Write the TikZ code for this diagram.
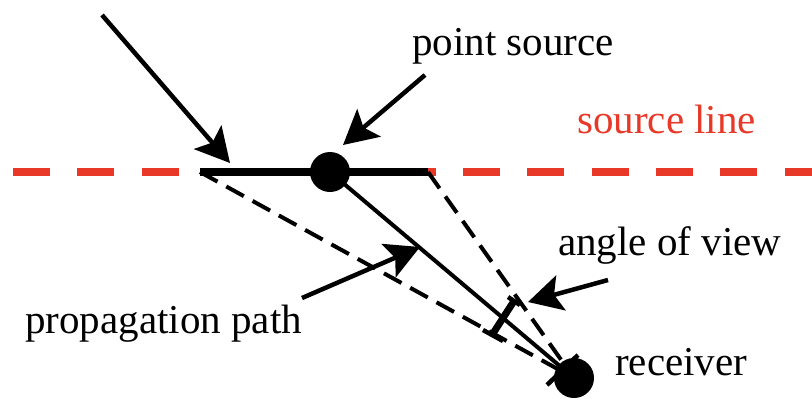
\documentclass[tikz,border=0pt]{standalone}
\usepackage{fontspec}
\setmainfont{Liberation Serif}
\usetikzlibrary{arrows.meta}
\definecolor{srcred}{RGB}{232,56,40}
\begin{document}
\begin{tikzpicture}[x=1pt,y=-1pt,
  lbl/.style={anchor=base west, inner sep=0pt, font=\fontsize{41}{48}\selectfont},
  arr/.style={line width=4.5pt, -{Stealth[length=34pt,width=36pt,inset=7pt]}},
  dot/.style={circle, fill=black, inner sep=0pt, minimum size=40pt},
  redline/.style={srcred, line width=8pt, dash pattern=on 37pt off 27.3pt},
  srcseg/.style={line width=8pt},
  pathline/.style={line width=4pt},
  viewline/.style={line width=4pt, dash pattern=on 20pt off 10pt},
  marker/.style={line width=7pt},
  tick/.style={line width=4.5pt}]
\useasboundingbox (0,0) rectangle (812,399);

% source line
\coordinate (rl0) at (13,172);
\coordinate (rl1) at (812,172);
\draw[redline] (rl0) -- (rl1);

\coordinate (L) at (200,172);
\coordinate (R) at (428,172);
\draw[srcseg] (L) -- (R);

\node[dot] (ps) at (330,172) {};
\node[dot] (rc) at (574,378) {};

% propagation path and view cone
\draw[pathline] (ps.center) -- (rc.center);
\draw[viewline] (L) -- (rc.center);
\draw[viewline] (R) -- (rc.center);

% angle of view marker
\coordinate (m1) at (514,301);
\coordinate (m2) at (492,335);
\draw[marker] (m1) -- (m2);
\coordinate (t1a) at (483,330);
\coordinate (t1b) at (503,341);
\draw[tick] (t1a) -- (t1b);
\coordinate (t2a) at (508,297);
\coordinate (t2b) at (520,305);
\draw[tick] (t2a) -- (t2b);
% receiver marker
\coordinate (r1) at (547,385);
\coordinate (r2) at (578,355);
\draw[tick] (r1) -- (r2);

% labels
\node[lbl] (tps) at (412,55) {point source};
\node[lbl, text=srcred] (tsl) at (577,133) {source line};
\node[lbl] (tav) at (558,255) {angle of view};
\node[lbl] (trc) at (615,375) {receiver};
\node[lbl] (tpp) at (25,333) {propagation path};

% arrows
\coordinate (a1s) at (102,15);
\coordinate (a1t) at (230,163);
\draw[arr] (a1s) -- (a1t);
\coordinate (a2s) at (425,75);
\coordinate (a2t) at (343,145);
\draw[arr] (a2s) -- (a2t);
\coordinate (a3s) at (302,298);
\coordinate (a3t) at (420,247);
\draw[arr] (a3s) -- (a3t);
\coordinate (a4s) at (608,280);
\coordinate (a4t) at (528,302);
\draw[arr] (a4s) -- (a4t);
\end{tikzpicture}
\end{document}
